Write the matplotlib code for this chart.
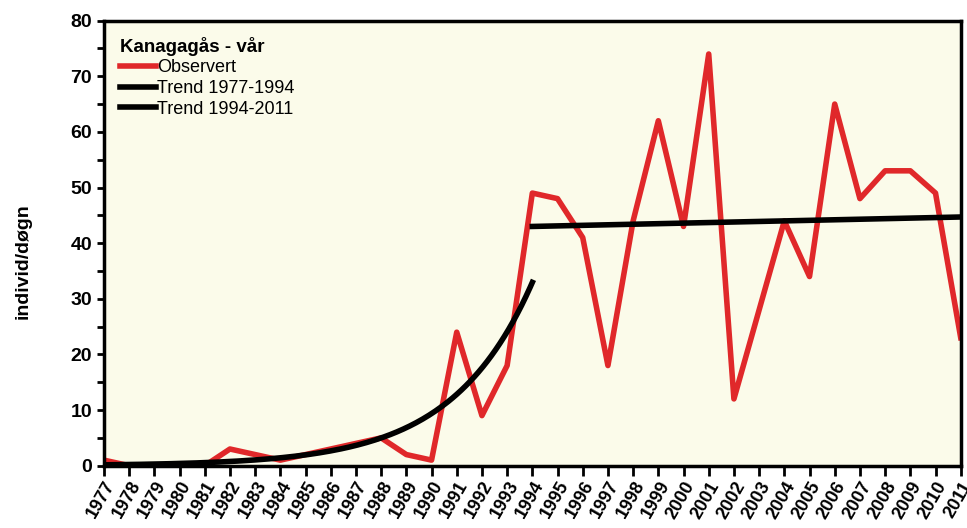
import numpy as np
import matplotlib.pyplot as plt
from matplotlib.ticker import MultipleLocator

plt.rcParams['font.family'] = ['Liberation Sans', 'DejaVu Sans']

years = list(range(1977, 2012))
observert = [1, 0, 0, 0, 0, 3, 2, 1, 2, 3, 4, 5, 2, 1, 24, 9, 18, 49,
             48, 41, 18, 44, 62, 43, 74, 12, 28, 44, 34, 65, 48, 53, 53, 49, 23]

# exponential trend 1977-1994: a * exp(b * (year - 1977))
trend1_a = 0.157
trend1_b = 0.3145
# linear trend 1994-2011: value at start and end
trend2_start = 43.0
trend2_end = 44.7

t1_years = np.linspace(1977, 1994, 200)
t1_vals = trend1_a * np.exp(trend1_b * (t1_years - 1977))
t2_years = [1994, 2011]
t2_vals = [trend2_start, trend2_end]

fig = plt.figure(figsize=(9.67, 5.28), dpi=100)
ax = fig.add_axes([0.1075, 0.118, 0.886, 0.843])
ax.set_facecolor('#FBFBEA')

ax.plot(years, observert, color='#E0282A', lw=4, label='Observert')
ax.plot(t1_years, t1_vals, color='black', lw=4, label='Trend 1977-1994')
ax.plot(t2_years, t2_vals, color='black', lw=4, label='Trend 1994-2011')

ax.set_xlim(1977, 2011)
ax.set_ylim(0, 80)
ax.set_xticks(years)
ax.set_xticklabels([str(y) for y in years], rotation=60, ha='right',
                   rotation_mode='anchor', fontsize=13, fontweight='bold')
ax.yaxis.set_major_locator(MultipleLocator(10))
ax.yaxis.set_minor_locator(MultipleLocator(5))
for lab in ax.get_yticklabels():
    lab.set_fontweight('bold')
    lab.set_fontsize(14)
ax.tick_params(axis='both', which='both', direction='out', width=2, length=5)
ax.tick_params(axis='x', length=7, pad=2)
for s in ax.spines.values():
    s.set_linewidth(2.5)

ax.set_ylabel('individ/døgn', fontsize=14, fontweight='bold')
ax.yaxis.set_label_coords(-0.084, 0.46)

leg = ax.legend(loc='upper left', frameon=False, title='Kanagagås - vår',
                fontsize=13, handlelength=2.0, handletextpad=0.05,
                labelspacing=0.2, borderaxespad=0.5,
                title_fontproperties={'weight': 'bold', 'size': 13.5})
leg._legend_box.align = 'left'

fig.savefig('out.png', dpi=100)
